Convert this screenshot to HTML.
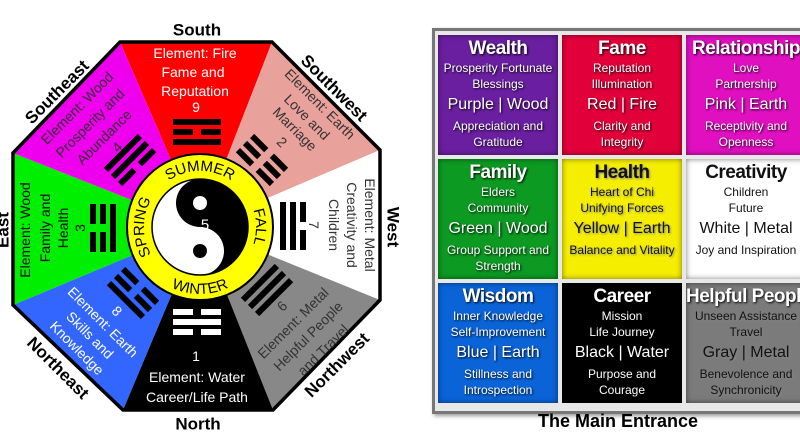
<!DOCTYPE html>
<html><head><meta charset="utf-8"><style>
html,body{margin:0;padding:0;background:#fff;width:800px;height:445px;overflow:hidden;position:relative;font-family:"Liberation Sans",sans-serif}
svg{position:absolute;left:0;top:0}
.frame{position:absolute;left:432px;top:28px;width:380px;height:380px;background:#e8e8e8;border:3px solid #777;box-shadow:2px 2px 4px #999}
.cell{position:absolute;width:120px;height:120px;text-align:center;color:#fff;text-shadow:1px 1px 2px #000;box-shadow:inset 0 0 6px rgba(0,0,0,.5)}
.cell .t{font-family:"Liberation Sans Narrow","Liberation Sans",sans-serif;font-weight:bold;font-size:19px;line-height:22px;margin-top:3px;white-space:nowrap;letter-spacing:-0.5px}
.cell .s{font-size:12px;line-height:16px;white-space:nowrap}
.cell .b{font-size:16px;line-height:22px;margin:2px 0;white-space:nowrap}
.dk{color:#111;text-shadow:1px 1px 2px #888}
.title{position:absolute;left:500px;width:236px;top:411px;text-align:center;font-weight:bold;font-size:18px}
</style></head><body>
<svg width="420" height="445" viewBox="0 0 420 445" font-family="Liberation Sans, sans-serif">
<defs>
<g id="S"><rect x="-24" y="-3" width="48" height="6"/></g>
<g id="B"><rect x="-24" y="-3" width="20" height="6"/><rect x="4" y="-3" width="20" height="6"/></g>
</defs>
<g stroke="none">
<polygon points="200,227 120,42 272,42" fill="#ff0000"/>
<polygon points="200,227 272,42 380,150" fill="#e9a19b"/>
<polygon points="200,227 380,150 380,300" fill="#ffffff"/>
<polygon points="200,227 380,300 273,410" fill="#888888"/>
<polygon points="200,227 273,410 123,410" fill="#000000"/>
<polygon points="200,227 123,410 13,305" fill="#3366ff"/>
<polygon points="200,227 13,305 13,153" fill="#00ee00"/>
<polygon points="200,227 13,153 120,42" fill="#ee00ee"/>
</g>
<polygon points="120,42 272,42 380,150 380,300 273,410 123,410 13,305 13,153" fill="none" stroke="#000" stroke-width="3.5"/>
<circle cx="200" cy="227" r="73" fill="#ffff00" stroke="#000" stroke-width="2"/>
<circle cx="200" cy="227" r="48" fill="#fff" stroke="#000" stroke-width="1.5"/>
<path d="M200,179 A48,48 0 0 1 200,275 A24,24 0 0 0 200,227 A24,24 0 0 1 200,179 Z" fill="#000"/>
<circle cx="200" cy="203" r="7" fill="#fff"/>
<circle cx="200" cy="251" r="7" fill="#000"/>
<text x="205" y="225" font-size="15" fill="#fff" text-anchor="middle" dominant-baseline="central">5</text>
<path id="pt" d="M144,227 A56,56 0 0 1 256,227" fill="none"/>
<path id="pb" d="M133,227 A67,67 0 0 0 267,227" fill="none"/>
<path id="pl" d="M200,283 A56,56 0 0 1 200,171" fill="none"/>
<path id="pr" d="M200,171 A56,56 0 0 1 200,283" fill="none"/>
<g font-size="15" fill="#000">
<text><textPath href="#pt" startOffset="50%" text-anchor="middle">SUMMER</textPath></text>
<text><textPath href="#pb" startOffset="50%" text-anchor="middle">WINTER</textPath></text>
<text><textPath href="#pl" startOffset="50%" text-anchor="middle">SPRING</textPath></text>
<text><textPath href="#pr" startOffset="50%" text-anchor="middle">FALL</textPath></text>
</g>
<g fill="#000">
<g transform="translate(197,132)"><use href="#S" y="-10"/><use href="#B"/><use href="#S" y="10"/></g>
<g transform="translate(262,160) rotate(45)"><use href="#B" y="-10"/><use href="#B"/><use href="#B" y="10"/></g>
<g transform="translate(293,226) rotate(90)"><use href="#B" y="-10"/><use href="#S"/><use href="#S" y="10"/></g>
<g transform="translate(267,290) rotate(135)"><use href="#S" y="-10"/><use href="#S"/><use href="#S" y="10"/></g>
<g transform="translate(133,293) rotate(225)"><use href="#S" y="-10"/><use href="#B"/><use href="#B" y="10"/></g>
<g transform="translate(103,228) rotate(270)"><use href="#B" y="-10"/><use href="#B"/><use href="#S" y="10"/></g>
<g transform="translate(130,160) rotate(315)"><use href="#S" y="-10"/><use href="#S"/><use href="#B" y="10"/></g>
</g>
<g fill="#fff" transform="translate(197,322) rotate(180)"><use href="#B" y="-10"/><use href="#S"/><use href="#B" y="10"/></g>
<g font-size="14" text-anchor="middle" dominant-baseline="central">
<g fill="#fff"><text x="195" y="53">Element: Fire</text><text x="193" y="72">Fame and</text><text x="195" y="91">Reputation</text><text x="196" y="107">9</text></g>
<g fill="#333"><text transform="translate(320,104) rotate(45)">Element: Earth</text><text transform="translate(307,117) rotate(45)">Love and</text><text transform="translate(295,129) rotate(45)">Marriage</text><text transform="translate(282,142) rotate(45)">2</text></g>
<g fill="#333"><text transform="translate(370,225) rotate(90)">Element: Metal</text><text transform="translate(352,225) rotate(90)">Creativity and</text><text transform="translate(334,225) rotate(90)">Children</text><text transform="translate(314,225) rotate(90)">7</text></g>
<g fill="#333"><text transform="translate(282,306) rotate(-45)">6</text><text transform="translate(293,323) rotate(-45)">Element: Metal</text><text transform="translate(308,336) rotate(-45)">Helpful People</text><text transform="translate(323,350) rotate(-45)">and Travel</text></g>
<g fill="#fff"><text x="196" y="356">1</text><text x="197" y="377">Element: Water</text><text x="197" y="397">Career/Life Path</text></g>
<g fill="#fff"><text transform="translate(117,311) rotate(45)">8</text><text transform="translate(103,322) rotate(45)">Element: Earth</text><text transform="translate(90,335) rotate(45)">Skills and</text><text transform="translate(77,348) rotate(45)">Knowledge</text></g>
<g fill="#111"><text transform="translate(25,230) rotate(-90)">Element: Wood</text><text transform="translate(45,228) rotate(-90)">Family and</text><text transform="translate(63,228) rotate(-90)">Health</text><text transform="translate(80,228) rotate(-90)">3</text></g>
<g fill="#333"><text transform="translate(77,108) rotate(-45)">Element: Wood</text><text transform="translate(90,123) rotate(-45)">Prosperity and</text><text transform="translate(104,137) rotate(-45)">Abundance</text><text transform="translate(117,147) rotate(-45)">4</text></g>
</g>
<g font-size="17" font-weight="bold" text-anchor="middle" dominant-baseline="central" fill="#000">
<text x="197" y="30">South</text>
<text x="198" y="424">North</text>
<text transform="translate(393,227) rotate(90)">West</text>
<text transform="translate(3,230) rotate(-90)">East</text>
<text transform="translate(57,92) rotate(-45)">Southeast</text>
<text transform="translate(334,88) rotate(45)">Southwest</text>
<text transform="translate(58,368) rotate(45)">Northeast</text>
<text transform="translate(337,365) rotate(-45)">Northwest</text>
</g>
</svg>

<div class="frame"></div>
<div class="cell" style="left:438px;top:35px;background:#6a1fa0"><div class="t">Wealth</div><div class="s">Prosperity Fortunate</div><div class="s">Blessings</div><div class="b">Purple | Wood</div><div class="s">Appreciation and</div><div class="s">Gratitude</div></div>
<div class="cell" style="left:562px;top:35px;background:#e2003a"><div class="t">Fame</div><div class="s">Reputation</div><div class="s">Illumination</div><div class="b">Red | Fire</div><div class="s">Clarity and</div><div class="s">Integrity</div></div>
<div class="cell" style="left:686px;top:35px;background:#e010c0"><div class="t">Relationship</div><div class="s">Love</div><div class="s">Partnership</div><div class="b">Pink | Earth</div><div class="s">Receptivity and</div><div class="s">Openness</div></div>
<div class="cell" style="left:438px;top:159px;background:#0c9a22"><div class="t">Family</div><div class="s">Elders</div><div class="s">Community</div><div class="b">Green | Wood</div><div class="s">Group Support and</div><div class="s">Strength</div></div>
<div class="cell dk" style="left:562px;top:159px;background:#f6ee00"><div class="t">Health</div><div class="s">Heart of Chi</div><div class="s">Unifying Forces</div><div class="b">Yellow | Earth</div><div class="s">Balance and Vitality</div></div>
<div class="cell dk" style="left:686px;top:159px;background:#fff;text-shadow:none"><div class="t">Creativity</div><div class="s">Children</div><div class="s">Future</div><div class="b">White | Metal</div><div class="s">Joy and Inspiration</div></div>
<div class="cell" style="left:438px;top:283px;background:#0a64d8"><div class="t">Wisdom</div><div class="s">Inner Knowledge</div><div class="s">Self-Improvement</div><div class="b">Blue | Earth</div><div class="s">Stillness and</div><div class="s">Introspection</div></div>
<div class="cell" style="left:562px;top:283px;background:#000"><div class="t">Career</div><div class="s">Mission</div><div class="s">Life Journey</div><div class="b">Black | Water</div><div class="s">Purpose and</div><div class="s">Courage</div></div>
<div class="cell dk" style="left:686px;top:283px;background:#7b7b7b"><div class="t" style="color:#fff;text-shadow:1px 1px 2px #000">Helpful People</div><div class="s">Unseen Assistance</div><div class="s">Travel</div><div class="b">Gray | Metal</div><div class="s">Benevolence and</div><div class="s">Synchronicity</div></div>
<div class="title">The Main Entrance</div>
</body></html>
